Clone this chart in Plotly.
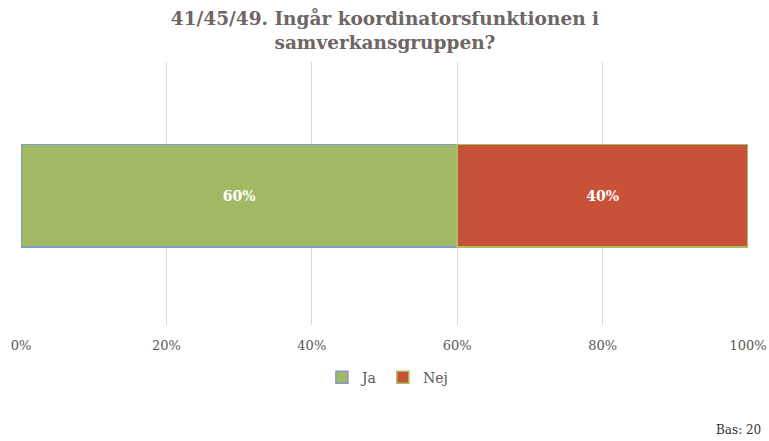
import plotly.graph_objects as go

categories = [""]
series_names = ["Ja", "Nej"]
values = [60, 40]
fills = ["#a3b865", "#c8513a"]
borders = ["#7b9cc3", "#a8c060"]
tick_vals = [0, 20, 40, 60, 80, 100]
tick_text = ["0%", "20%", "40%", "60%", "80%", "100%"]

font_family = "DejaVu Serif, Liberation Serif, serif"

fig = go.Figure()
for name, v, c, b in zip(series_names, values, fills, borders):
    fig.add_trace(go.Bar(
        y=categories, x=[v], name=name, orientation="h",
        marker=dict(color=c, line=dict(color=b, width=1.5)),
        text=[f"{v}%"], textposition="inside", insidetextanchor="middle",
        textfont=dict(color="white", size=14, family=font_family, weight="bold"),
        width=0.39, hoverinfo="skip",
    ))

fig.update_layout(
    barmode="stack",
    width=769, height=441,
    margin=dict(l=21, r=21, t=62, b=116, autoexpand=False),
    paper_bgcolor="white", plot_bgcolor="white",
    title=dict(
        text="<b>41/45/49. Ingår koordinatorsfunktionen i<br>samverkansgruppen?</b>",
        x=0.5006, xanchor="center", y=0.9444, yanchor="top",
        font=dict(family=font_family, size=18.5, color="#6e6565"),
    ),
    font=dict(family=font_family, color="#595959"),
    xaxis=dict(
        range=[0, 100], tickvals=tick_vals, ticktext=tick_text,
        showgrid=True, gridcolor="#d9d9d9", gridwidth=1,
        zeroline=False, showline=False, ticks="",
        tickfont=dict(size=13, color="#595959"),
        ticklabelstandoff=11, automargin=False,
    ),
    yaxis=dict(range=[-0.492, 0.508], showticklabels=False, showgrid=False,
               zeroline=False, automargin=False),
    legend=dict(
        orientation="h", x=0.504, xanchor="center", y=-0.2, yanchor="middle",
        font=dict(size=14, color="#595959"), itemwidth=30,
        traceorder="normal",
    ),
    showlegend=True,
)
fig.add_annotation(
    text="Bas: 20", xref="paper", yref="paper", x=1.021, y=-0.399,
    xanchor="right", yanchor="middle", showarrow=False,
    font=dict(size=12, color="#333333", family=font_family),
)

fig.write_html("out.html", config={"displayModeBar": False},
               post_script="document.body.style.margin='0';")
